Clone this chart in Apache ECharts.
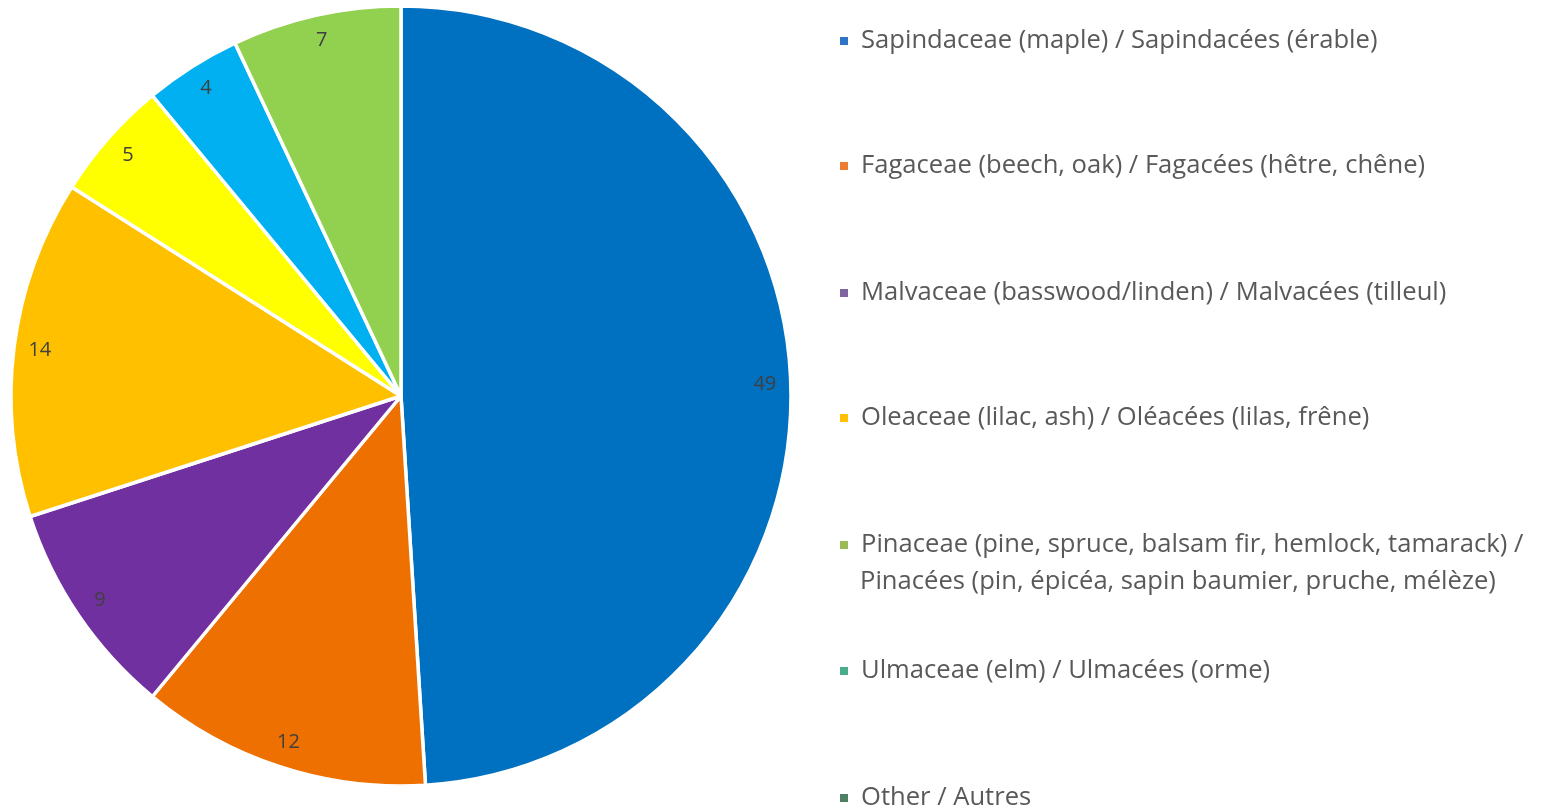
<!DOCTYPE html>
<html>
<head>
<meta charset="utf-8">
<script src="https://cdn.jsdelivr.net/npm/echarts@6/dist/echarts.min.js"></script>
<style>
  html,body{margin:0;padding:0;background:#fff}
  #c{width:1542px;height:810px}
</style>
</head>
<body>
<div id="c"></div>
<script>
// 数据:科名(图例)、数值、扇区颜色、图例色块(原图图例色与扇区色不一致)
const names = [
  'Sapindaceae (maple) / Sapindacées (érable)',
  'Fagaceae (beech, oak) / Fagacées (hêtre, chêne)',
  'Malvaceae (basswood/linden) / Malvacées (tilleul)',
  'Oleaceae (lilac, ash) / Oléacées (lilas, frêne)',
  'Pinaceae (pine, spruce, balsam fir, hemlock, tamarack) /',
  'Ulmaceae (elm) / Ulmacées (orme)',
  'Other / Autres'
]
const values = [49, 12, 9, 14, 5, 4, 7]
const sliceColors = ['#0070c0', '#ed7000', '#7030a0', '#ffc000', '#ffff00', '#00b0f0', '#92d050']
const legendColors = ['#2e75c8', '#ed7d31', '#8064a2', '#ffc000', '#9bbb59', '#4bac8c', '#4f7f63']
const legendY = [41, 166, 293, 418, 545, 671, 798]   // 图例每项文字中线
const pinaceaeLine2 = 'Pinacées (pin, épicéa, sapin baumier, pruche, mélèze)'

const FONT = '"Open Sans", sans-serif'
const FS = 25.6
const CX = 401, CY = 396, R = 390

const data = names.map((n, i) => ({ name: n, value: values[i], itemStyle: { color: sliceColors[i] } }))

const legends = names.map((n, i) => ({
  orient: 'vertical', left: 838, top: legendY[i] - 16, padding: 0,
  icon: 'rect', itemWidth: 10, itemHeight: 10, itemGap: 0,
  selectedMode: false,
  textStyle: { color: '#595959', fontSize: FS, fontFamily: FONT, lineHeight: 32, padding: [0, 0, 0, 7] },
  data: [{ name: n, itemStyle: { color: legendColors[i] } }]
}))

const chart = echarts.init(document.getElementById('c'))
chart.setOption({
  backgroundColor: '#fff',
  animation: false,
  legend: legends,
  graphic: [{
    type: 'text', left: 860, top: legendY[4] + 37 - 16,
    style: { text: pinaceaeLine2, fill: '#595959', font: FS + 'px ' + FONT, lineHeight: 32 }
  }],
  series: [
    {
      type: 'pie', center: [CX, CY], radius: [0, R], startAngle: 90, clockwise: true,
      label: { show: false }, labelLine: { show: false },
      itemStyle: { borderColor: '#fff', borderWidth: 3.5 },
      emphasis: { disabled: true },
      data
    },
    {
      // 透明环,只用来把数字标签放到靠外的位置
      type: 'pie', center: [CX, CY], radius: [R - 58, R], startAngle: 90, clockwise: true,
      silent: true, legendHoverLink: false,
      itemStyle: { color: 'transparent', borderWidth: 0 },
      label: { show: true, position: 'inside', formatter: '{c}', color: '#404040', fontSize: 20, fontFamily: FONT },
      labelLine: { show: false },
      data: names.map((n, i) => ({ name: n, value: values[i] }))
    }
  ]
})
</script>
</body>
</html>
